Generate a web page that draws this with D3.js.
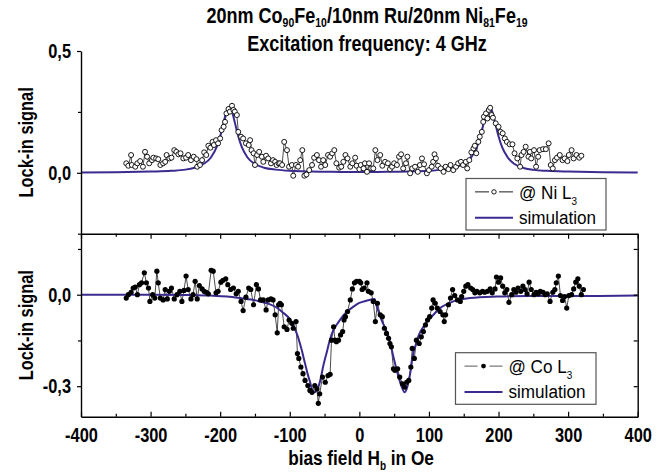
<!DOCTYPE html>
<html><head><meta charset="utf-8">
<script src="https://cdn.jsdelivr.net/npm/d3@7"></script>
<style>html,body{margin:0;padding:0;background:#fff;} svg{display:block;}</style>
</head><body>
<svg id="chart" width="667" height="474"></svg>
<script>
// ---------- DATA ----------
const xMajorTicks = [-400,-300,-200,-100,0,100,200,300,400];
const xMinorTicks = [-350,-250,-150,-50,50,150,250,350];
const topYTicks = [0.5, 0];
const topYTickLabels = ["0,5", "0,0"];
const topYMinor = [0.25, -0.25];
const botYTicks = [0, -0.3];
const botYTickLabels = ["0,0", "-0,3"];
const botYMinor = [0.15, -0.15];

// Ni L3 measurement (open circles)
const niField = [-335,-332,-328,-327,-322,-319,-315,-311,-308,-305,-302,-298,-296,-292,-289,-286,-282,-279,-277,-273,
-270,-266,-263,-260,-257,-253,-249,-246,-242,-238,-234,-233,-229,-226,-223,-220,-217,-214,-211,-209,
-206,-203,-200,-198,-195,-193,-191,-188,-186,-183,-181,-179,-176,-174,-170,-167,-163,-159,-157,-155,
-152,-150,-147,-144,-140,-138,-134,-131,-127,-124,-121,-119,-116,
-114,-111,-108,-104,-101,-97,-95,-91,-88,-85,-82,-79,-76,-72,-68,-65,-61,-58,-55,-52,
-49,-45,-42,-39,-36,-33,-29,-26,-23,-20,-17,-13,-10,-6,-4,0,2,6,8,11,
14,17,20,23,26,30,33,37,41,44,47,50,54,57,60,63,67,69,73,76,
80,84,87,90,93,97,100,104,106,108,
110,113,117,121,124,128,131,135,139,142,146,149,153,155,158,161,164,166,168,171,
173,176,178,179,182,184,186,188,190,192,196,200,203,206,209,212,216,220,223,227,
231,233,236,239,243,245,247,251,254,257,259,264,268,272,275,278,281,284,288,292,
295,299,301,305,308,312,316,319];
const niSignal = [0.039,0.029,0.073,0.032,0.025,0.039,0.048,0.025,0.086,0.066,0.039,0.052,0.062,0.059,0.056,0.032,0.039,0.045,0.073,0.059,
0.062,0.093,0.086,0.076,0.080,0.059,0.062,0.073,0.052,0.066,0.056,0.025,0.032,0.052,0.084,0.073,0.111,0.103,0.127,0.114,
0.134,0.121,0.141,0.175,0.189,0.209,0.244,0.262,0.251,0.275,0.258,0.251,0.237,0.168,0.148,0.141,0.121,0.114,0.134,0.093,
0.080,0.032,0.073,0.086,0.066,0.045,0.070,0.059,0.039,0.052,0.045,0.032,0.039,
0.039,0.032,0.127,0.093,0.025,0.032,-0.012,0.032,0.025,0.052,0.093,-0.012,-0.007,0.011,0.032,0.062,0.073,0.052,0.025,0.052,
0.032,0.073,0.066,0.080,0.093,0.039,0.021,0.025,0.045,0.073,0.059,0.025,0.039,0.062,0.029,0.015,0.032,0.018,0.039,0.004,
0.039,0.018,0.018,0.093,0.052,0.073,0.029,0.045,0.039,0.015,0.025,0.039,0.032,0.066,0.076,0.018,0.039,0.066,-0.002,0.018,
0.025,0.004,0.032,0.059,0.035,-0.002,0.011,0.025,0.045,0.076,
0.059,0.029,0.018,0.004,0.025,0.015,0.032,0.011,0.025,0.039,0.045,0.032,0.045,0.018,0.052,0.084,0.100,0.111,0.080,0.127,
0.148,0.168,0.209,0.230,0.244,0.223,0.258,0.267,0.237,0.226,0.203,0.189,0.168,0.162,0.141,0.127,0.117,0.117,0.080,0.059,
0.025,0.073,0.086,0.107,0.066,0.086,0.059,0.093,0.025,0.066,0.093,0.097,0.097,0.121,0.032,0.018,0.052,0.062,0.073,0.052,
0.059,0.048,0.073,0.093,0.059,0.073,0.062,0.070];

// Ni simulation
const simNiField = [-400,-350,-300,-270,-250,-237,-223,-213,-205,-200,-195,-191,-187,-183,-179,-174,-169,-161,-151,-137,-120,-100,-70,-40,0,
40,70,100,120,137,151,161,169,174,179,183,187,191,195,200,205,213,223,237,250,270,300,350,400];
const simNiSignal = [0.001,0.002,0.005,0.008,0.013,0.021,0.038,0.064,0.106,0.150,0.207,0.251,0.270,0.251,0.207,0.150,0.106,0.064,0.038,0.021,0.013,0.008,0.005,0.004,0.003,
0.004,0.005,0.008,0.013,0.021,0.038,0.064,0.106,0.150,0.207,0.251,0.270,0.251,0.207,0.150,0.106,0.064,0.036,0.019,0.012,0.008,0.005,0.002,0.001];

// Co L3 measurement (filled dots)
const coField = [-335,-332,-328,-325,-322,-319,-316,-313,-309,-306,-303,-301,-297,-294,-291,-289,-286,-282,-279,-276,
-273,-270,-266,-262,-258,-255,-252,-249,-246,-242,-239,-236,-233,-230,-226,-223,-220,-217,-213,-210,
-206,-203,-199,-196,-192,-189,-185,-181,-177,-174,-170,-167,-163,-159,-156,-152,-148,-145,-142,-138,
-134,-131,-127,-124,-121,-118,
-116,-114,-112,-108,-104,-101,-97,-95,-91,-89,-87,-84,-81,-78,-74,-71,-68,-64,-61,-59,
-57,-53,-49,-45,-42,-40,-37,-35,-33,-30,-27,-24,-22,-20,-17,-13,-10,-7,-4,0,
2,4,7,11,13,17,20,23,26,30,33,36,39,42,44,46,49,51,55,58,
62,65,68,71,74,76,79,82,86,89,92,95,98,101,104,106,
109,112,116,120,122,124,128,131,134,137,141,145,147,150,153,156,160,163,166,169,
173,177,180,184,188,191,195,197,200,203,206,209,212,215,219,222,225,228,232,235,
238,241,244,247,251,254,257,260,264,267,270,274,278,281,283,286,289,292,295,298,
301,305,308,311,314,316,319,322];
const coSignal = [-0.011,0.000,0.008,0.022,0.025,0.000,0.033,0.039,0.072,0.039,0.022,-0.022,0.000,-0.011,0.077,0.039,-0.011,-0.017,0.017,-0.014,
0.011,0.022,-0.014,0.000,0.011,-0.022,0.014,0.061,0.017,-0.014,0.000,0.044,-0.014,0.030,0.019,0.011,0.008,0.003,0.080,0.077,
0.006,0.011,0.041,0.047,0.052,0.033,0.017,0.022,0.003,0.011,-0.022,-0.052,-0.008,0.022,0.017,-0.033,0.033,0.019,-0.017,-0.017,
-0.050,-0.017,-0.014,-0.017,-0.066,-0.125,
-0.033,-0.028,-0.033,-0.105,-0.114,-0.083,-0.094,-0.110,-0.088,-0.193,-0.209,-0.237,-0.259,-0.281,-0.298,-0.314,-0.320,-0.298,-0.309,-0.356,
-0.325,-0.270,-0.287,-0.265,-0.261,-0.149,-0.105,-0.149,-0.154,-0.149,-0.132,-0.121,-0.083,-0.072,-0.055,-0.017,0.019,0.039,0.044,0.044,
0.039,0.017,0.022,0.039,0.011,0.006,-0.022,-0.088,-0.028,-0.066,-0.072,-0.110,-0.127,-0.143,-0.160,-0.171,-0.243,-0.248,-0.243,-0.270,
-0.292,-0.303,-0.287,-0.281,-0.237,-0.176,-0.209,-0.149,-0.160,-0.138,-0.121,-0.099,-0.083,-0.072,-0.044,-0.017,
-0.028,-0.044,-0.055,-0.066,-0.088,-0.066,-0.033,-0.011,0.017,-0.003,-0.017,-0.022,-0.006,0.011,0.028,0.033,0.022,0.017,0.006,0.011,
0.006,0.011,0.008,0.011,0.019,0.006,0.019,0.058,0.041,0.055,0.028,0.006,0.017,-0.025,0.000,0.017,0.008,0.022,0.011,0.028,
0.017,0.003,0.041,0.017,0.000,0.008,0.003,0.011,0.008,0.000,0.003,-0.022,0.008,0.017,0.039,0.061,-0.003,-0.019,-0.006,-0.044,
-0.003,0.000,0.019,0.041,0.052,0.028,0.000,0.017];

// Co simulation
const simCoField = [-400,-300,-250,-214,-190,-171,-155,-143,-130,-119,-110,-100,-94,-88,-83,-78,-74,-71,-68,-65,-62,-59,-56,-52,-47,-42,-37,-30,-23,-15,-9,0,10,22,
24,27,32,37,42,49,55,61,65,68,73,77,81,85,94,104,116,135,159,197,244,322,400];
const simCoSignal = [0,0,-0.001,-0.003,-0.006,-0.011,-0.016,-0.022,-0.030,-0.042,-0.058,-0.080,-0.105,-0.140,-0.180,-0.226,-0.262,-0.285,-0.310,-0.320,-0.316,-0.303,-0.280,-0.235,-0.190,-0.145,-0.115,-0.090,-0.068,-0.050,-0.040,-0.027,-0.020,-0.014,
-0.030,-0.052,-0.083,-0.110,-0.138,-0.204,-0.259,-0.303,-0.320,-0.309,-0.259,-0.198,-0.165,-0.135,-0.099,-0.072,-0.044,-0.022,-0.011,-0.006,-0.004,-0.004,-0.003];

// ---------- DRAW ----------
const W = 667, H = 474;
const svg = d3.select("#chart");
svg.append("rect").attr("width", W).attr("height", H).attr("fill", "#fff");
const FONT = "'Liberation Sans', Arial, Helvetica, sans-serif";
const SX = 0.82;
const SIM = "#3c2a8f";
const X0 = 81, X1 = 637.7, YT = 51, YM = 233.7, YB = 416.7;

const x = d3.scaleLinear().domain([-400, 400]).range([X0, X1]);
const yTop = d3.scaleLinear().domain([-0.25, 0.5]).range([YM, YT]);
const yBot = d3.scaleLinear().domain([-0.4, 0.2]).range([YB, YM]);

function styleAxis(g, w) {
  g.select(".domain").attr("stroke", "#000").attr("stroke-width", w || 1.4);
  g.selectAll(".tick line").attr("stroke", "#000").attr("stroke-width", 1.2);
}
function styleTickText(g, xoff) {
  const t = g.selectAll(".tick text")
    .attr("font-family", FONT).attr("font-size", 20).attr("font-weight", "bold")
    .attr("fill", "#000").attr("transform", `scale(${SX},1)`);
  if (xoff !== undefined) t.attr("x", xoff / SX);
}

// text helper with subscripts and horizontal condensing
function label(parent, px, py, anchor, size, weight, parts, sx, rotate, subShift) {
  const g = parent.append("g")
    .attr("transform", `translate(${px},${py})` + (rotate ? ` rotate(${rotate})` : "") + ` scale(${sx},1)`);
  const t = g.append("text").attr("text-anchor", anchor).attr("font-family", FONT)
    .attr("font-size", size).attr("font-weight", weight).attr("fill", "#000");
  let shifted = 0;
  parts.forEach(p => {
    const sp = t.append("tspan").text(p.t);
    if (p.sub) {
      const s = subShift !== undefined ? subShift : Math.round(size * 0.3);
      sp.attr("font-size", size * 0.58).attr("dy", s - shifted);
      shifted = s;
    } else if (shifted) {
      sp.attr("dy", -shifted);
      shifted = 0;
    }
  });
  return g;
}

// --- simulation & data lines ---
const lineTop = d3.line().x(d => x(d[0])).y(d => yTop(d[1]));
const lineBot = d3.line().x(d => x(d[0])).y(d => yBot(d[1]));
const simTop = simNiField.map((f, i) => [f, simNiSignal[i]]);
const simBot = simCoField.map((f, i) => [f, simCoSignal[i]]);
const niPts = niField.map((f, i) => [f, niSignal[i]]);
const coPts = coField.map((f, i) => [f, coSignal[i]]);

svg.append("path").attr("d", lineTop(niPts))
  .attr("fill", "none").attr("stroke", "#000").attr("stroke-width", 0.7);
svg.append("path").attr("d", d3.line().x(d => x(d[0])).y(d => yTop(d[1])).curve(d3.curveMonotoneX)(simTop))
  .attr("fill", "none").attr("stroke", SIM).attr("stroke-width", 2);
svg.append("g").selectAll("circle").data(niPts).join("circle")
  .attr("cx", d => x(d[0])).attr("cy", d => yTop(d[1])).attr("r", 2.5)
  .attr("fill", "#fff").attr("stroke", "#000").attr("stroke-width", 0.9);

svg.append("path").attr("d", lineBot(coPts))
  .attr("fill", "none").attr("stroke", "#000").attr("stroke-width", 0.7);
svg.append("path").attr("d", d3.line().x(d => x(d[0])).y(d => yBot(d[1])).curve(d3.curveMonotoneX)(simBot))
  .attr("fill", "none").attr("stroke", SIM).attr("stroke-width", 2);
svg.append("g").selectAll("circle").data(coPts).join("circle")
  .attr("cx", d => x(d[0])).attr("cy", d => yBot(d[1])).attr("r", 2.6)
  .attr("fill", "#000");

// --- axes ---
const gxB = svg.append("g").attr("transform", `translate(0,${YB})`)
  .call(d3.axisBottom(x).tickValues(xMajorTicks).tickSizeInner(-5).tickSizeOuter(0).tickPadding(11).tickFormat(d => String(d)));
styleAxis(gxB); styleTickText(gxB);
const gxBm = svg.append("g").attr("transform", `translate(0,${YB})`)
  .call(d3.axisBottom(x).tickValues(xMinorTicks).tickSizeInner(-3).tickSizeOuter(0).tickFormat(""));
styleAxis(gxBm); gxBm.select(".domain").remove();

const gxM = svg.append("g").attr("transform", `translate(0,${YM})`)
  .call(d3.axisBottom(x).tickValues(xMajorTicks).tickSizeInner(5).tickSizeOuter(0).tickFormat(""));
styleAxis(gxM);
const gxMm = svg.append("g").attr("transform", `translate(0,${YM})`)
  .call(d3.axisBottom(x).tickValues(xMinorTicks).tickSizeInner(3).tickSizeOuter(0).tickFormat(""));
styleAxis(gxMm); gxMm.select(".domain").remove();

const gyT = svg.append("g").attr("transform", `translate(${X0},0)`)
  .call(d3.axisLeft(yTop).tickValues(topYTicks).tickSizeInner(4).tickSizeOuter(0).tickPadding(7)
    .tickFormat((d, i) => topYTickLabels[i]));
styleAxis(gyT); styleTickText(gyT, -10);
const gyTm = svg.append("g").attr("transform", `translate(${X0},0)`)
  .call(d3.axisLeft(yTop).tickValues(topYMinor).tickSizeInner(3).tickSizeOuter(0).tickFormat(""));
styleAxis(gyTm); gyTm.select(".domain").remove();

const gyB = svg.append("g").attr("transform", `translate(${X0},0)`)
  .call(d3.axisLeft(yBot).tickValues(botYTicks).tickSizeInner(4).tickSizeOuter(0).tickPadding(7)
    .tickFormat((d, i) => botYTickLabels[i]));
styleAxis(gyB); styleTickText(gyB, -10);
const gyBm = svg.append("g").attr("transform", `translate(${X0},0)`)
  .call(d3.axisLeft(yBot).tickValues(botYMinor).tickSizeInner(3).tickSizeOuter(0).tickFormat(""));
styleAxis(gyBm); gyBm.select(".domain").remove();

const gyR = svg.append("g").attr("transform", `translate(${X1},0)`)
  .call(d3.axisRight(yBot).tickValues(botYMinor.concat(botYTicks)).tickSizeInner(-4).tickSizeOuter(0).tickFormat(""));
styleAxis(gyR);

// --- titles & axis labels ---
label(svg, 367, 23, "middle", 22, "bold",
  [{t: "20nm Co"}, {t: "90", sub: true}, {t: "Fe"}, {t: "10", sub: true}, {t: "/10nm Ru/20nm Ni"}, {t: "81", sub: true}, {t: "Fe"}, {t: "19", sub: true}], SX, 0, 4);
label(svg, 367, 51, "middle", 22, "bold", [{t: "Excitation frequency: 4 GHz"}], SX);
label(svg, 361, 465, "middle", 21, "bold", [{t: "bias field H"}, {t: "b", sub: true}, {t: " in Oe"}], SX, 0, 5);
label(svg, 33, (YT + YM) / 2, "middle", 20, "bold", [{t: "Lock-in signal"}], SX, -90);
label(svg, 33, (YM + YB) / 2, "middle", 20, "bold", [{t: "Lock-in signal"}], SX, -90);

// --- legends ---
function legend(bx, by, bw, bh, row1, sym) {
  const g = svg.append("g");
  g.append("rect").attr("x", bx).attr("y", by).attr("width", bw).attr("height", bh)
    .attr("fill", "#fff").attr("stroke", "#555").attr("stroke-width", 1.2);
  const lx0 = bx + 9, lx1 = bx + 47, cx = (lx0 + lx1) / 2;
  const r1 = by + bh * 0.26, r2 = by + bh * 0.76;
  if (sym === "open") {
    g.append("line").attr("x1", lx0).attr("x2", cx - 5).attr("y1", r1).attr("y2", r1).attr("stroke", "#000").attr("stroke-width", 0.9);
    g.append("line").attr("x1", cx + 5).attr("x2", lx1).attr("y1", r1).attr("y2", r1).attr("stroke", "#000").attr("stroke-width", 0.9);
    g.append("circle").attr("cx", cx).attr("cy", r1).attr("r", 2.2).attr("fill", "#fff").attr("stroke", "#000").attr("stroke-width", 0.9);
  } else {
    g.append("line").attr("x1", lx0).attr("x2", cx - 6).attr("y1", r1).attr("y2", r1).attr("stroke", "#666").attr("stroke-width", 1.1);
    g.append("line").attr("x1", cx + 6).attr("x2", lx1).attr("y1", r1).attr("y2", r1).attr("stroke", "#666").attr("stroke-width", 1.1);
    g.append("circle").attr("cx", cx).attr("cy", r1).attr("r", 2.4).attr("fill", "#000");
  }
  g.append("line").attr("x1", lx0).attr("x2", lx1).attr("y1", r2).attr("y2", r2).attr("stroke", SIM).attr("stroke-width", 2);
  label(g, lx1 + 6, r1 + 7, "start", 19, "normal", row1, 0.9);
  label(g, lx1 + 6, r2 + 6, "start", 19, "normal", [{t: "simulation"}], 0.9);
}
legend(466, 178.5, 140, 51.5, [{t: "@ Ni L"}, {t: "3", sub: true}], "open");
legend(455.5, 352.7, 140.5, 51.6, [{t: "@ Co L"}, {t: "3", sub: true}], "dot");
</script>
</body></html>
